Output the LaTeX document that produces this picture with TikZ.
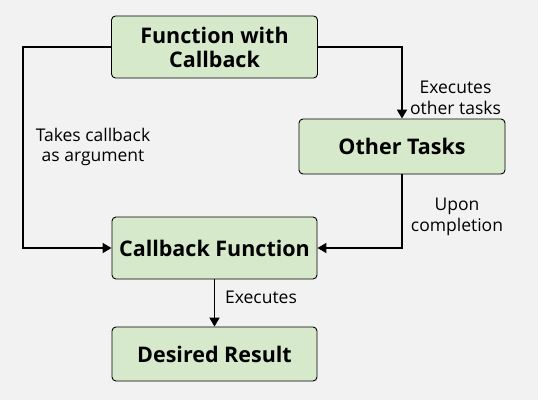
\documentclass[tikz,border=0pt]{standalone}
\usepackage{fontspec}
\setmainfont{Open Sans}
\usepackage{xcolor}
\usetikzlibrary{calc,arrows.meta}
\definecolor{boxgreen}{HTML}{D6EACB}
\definecolor{backgray}{HTML}{F2F2F2}
\begin{document}
\begin{tikzpicture}[x=1pt,y=-1pt]
        \tikzstyle{box}=[draw=black,line width=0.9pt,fill=boxgreen,rounded corners=4pt,align=center,font=\fontsize{21.5}{24}\selectfont\bfseries,inner sep=0pt]
        \tikzstyle{lbl}=[align=center,font=\fontsize{17.5}{20.5}\selectfont,inner sep=0pt]
        \tikzstyle{arr}=[line width=1.8pt,-{Triangle[length=9pt,width=10pt]}]
        \fill[backgray] (0,0) rectangle (538,400);
        \useasboundingbox (0,0) rectangle (538,400);
        \node[box,minimum width=206pt,minimum height=62pt] (fwc) at (214.5,47) {Function with\\Callback};
        \node[box,minimum width=206pt,minimum height=55pt] (ot) at (402,146.5) {Other Tasks};
        \node[box,minimum width=205pt,minimum height=62pt] (cbf) at (214.5,248) {Callback Function};
        \node[box,minimum width=205pt,minimum height=54pt] (dr) at (214.5,354) {Desired Result};
        % Connectors and their labels
        \coordinate (l) at (23,47);
        \draw[arr] (fwc.west)--(l) |- (cbf.west);
        \draw[arr] (fwc.east) -| (ot.north);
        \draw[arr] (ot.south) |- (cbf.east);
        \draw[arr] (cbf.south)--(dr.north);
        \node[lbl] (t1) at (455.5,98) {Executes\\other tasks};
        \node[lbl] (t2) at (93,147) {Takes callback\\as argument};
        \node[lbl] (t3) at (457,217) {Upon\\completion};
        \node[lbl] (t4) at (261,297) {Executes};
    \end{tikzpicture}
\end{document}
